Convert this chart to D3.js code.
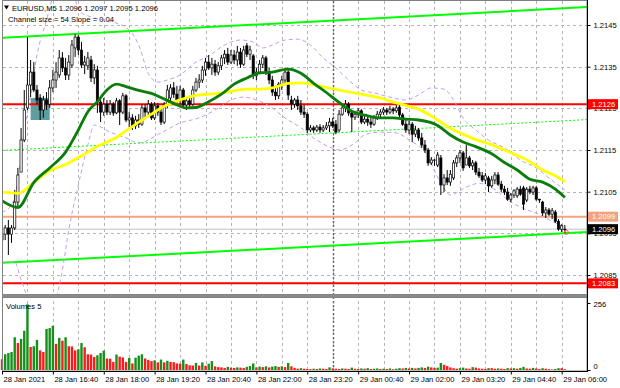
<!DOCTYPE html>
<html>
<head>
<meta charset="utf-8">
<script src="https://cdn.jsdelivr.net/npm/d3@7"></script>
<style>
  html, body { margin: 0; padding: 0; background: #fff; }
  svg { display: block; font-family: "Liberation Sans", Arial, sans-serif; }
</style>
</head>
<body>
<svg id="chart" width="620" height="388"></svg>
<script>
// EURUSD M5 bars, 28 Jan 15:20 .. 29 Jan 06:05
var opens = [
  1.20934, 1.20948, 1.20963, 1.20948, 1.20963, 1.21025, 1.21097, 1.21174, 1.21251, 1.21306,
  1.21337, 1.21294, 1.21275, 1.21246, 1.21270, 1.21260, 1.21299, 1.21318, 1.21330, 1.21371,
  1.21347, 1.21330, 1.21354, 1.21395, 1.21421, 1.21390, 1.21354, 1.21352, 1.21366, 1.21323,
  1.21342, 1.21265, 1.21241, 1.21260, 1.21241, 1.21260, 1.21239, 1.21268, 1.21241, 1.21280,
  1.21222, 1.21227, 1.21208, 1.21222, 1.21212, 1.21251, 1.21241, 1.21260, 1.21227, 1.21256,
  1.21241, 1.21217, 1.21258, 1.21275, 1.21299, 1.21284, 1.21270, 1.21294, 1.21258, 1.21268,
  1.21260, 1.21294, 1.21313, 1.21318, 1.21342, 1.21361, 1.21347, 1.21356, 1.21337, 1.21352,
  1.21371, 1.21380, 1.21361, 1.21378, 1.21366, 1.21385, 1.21356, 1.21400, 1.21380, 1.21376,
  1.21328, 1.21337, 1.21356, 1.21371, 1.21337, 1.21318, 1.21289, 1.21280, 1.21308, 1.21318,
  1.21337, 1.21270, 1.21260, 1.21270, 1.21256, 1.21241, 1.21236, 1.21198, 1.21203, 1.21198,
  1.21205, 1.21198, 1.21203, 1.21208, 1.21217, 1.21212, 1.21198, 1.21236, 1.21251, 1.21260,
  1.21239, 1.21229, 1.21236, 1.21244, 1.21217, 1.21224, 1.21217, 1.21212, 1.21227, 1.21236,
  1.21241, 1.21246, 1.21241, 1.21248, 1.21244, 1.21253, 1.21234, 1.21212, 1.21198, 1.21212,
  1.21188, 1.21198, 1.21179, 1.21162, 1.21150, 1.21119, 1.21126, 1.21114, 1.21131, 1.21066,
  1.21083, 1.21073, 1.21083, 1.21119, 1.21131, 1.21143, 1.21114, 1.21131, 1.21112, 1.21119,
  1.21097, 1.21088, 1.21078, 1.21083, 1.21064, 1.21078, 1.21090, 1.21068, 1.21056, 1.21049,
  1.21032, 1.21042, 1.21040, 1.21056, 1.21059, 1.21030, 1.21056, 1.21049, 1.21059, 1.21032,
  1.21025, 1.20999, 1.21006, 1.20996, 1.21001, 1.20979, 1.20960, 1.20960
];
var highs = [
  1.20953, 1.20970, 1.20982, 1.20970, 1.21054, 1.21107, 1.21203, 1.21294, 1.21421, 1.21366,
  1.21361, 1.21306, 1.21284, 1.21280, 1.21289, 1.21318, 1.21342, 1.21361, 1.21390, 1.21385,
  1.21371, 1.21378, 1.21414, 1.21428, 1.21426, 1.21409, 1.21376, 1.21385, 1.21376, 1.21356,
  1.21352, 1.21280, 1.21275, 1.21270, 1.21270, 1.21265, 1.21275, 1.21272, 1.21287, 1.21284,
  1.21241, 1.21236, 1.21232, 1.21236, 1.21260, 1.21260, 1.21270, 1.21265, 1.21265, 1.21263,
  1.21251, 1.21265, 1.21306, 1.21308, 1.21313, 1.21304, 1.21304, 1.21299, 1.21277, 1.21280,
  1.21304, 1.21323, 1.21332, 1.21352, 1.21371, 1.21378, 1.21371, 1.21366, 1.21361, 1.21378,
  1.21390, 1.21395, 1.21390, 1.21390, 1.21400, 1.21395, 1.21400, 1.21407, 1.21400, 1.21380,
  1.21347, 1.21366, 1.21378, 1.21376, 1.21347, 1.21328, 1.21304, 1.21313, 1.21328, 1.21347,
  1.21342, 1.21280, 1.21275, 1.21280, 1.21270, 1.21258, 1.21241, 1.21210, 1.21208, 1.21210,
  1.21212, 1.21210, 1.21217, 1.21227, 1.21227, 1.21222, 1.21246, 1.21260, 1.21270, 1.21265,
  1.21246, 1.21244, 1.21251, 1.21248, 1.21232, 1.21234, 1.21227, 1.21234, 1.21244, 1.21248,
  1.21253, 1.21251, 1.21256, 1.21253, 1.21258, 1.21260, 1.21239, 1.21222, 1.21220, 1.21217,
  1.21208, 1.21203, 1.21191, 1.21174, 1.21155, 1.21133, 1.21128, 1.21145, 1.21138, 1.21092,
  1.21102, 1.21102, 1.21126, 1.21138, 1.21150, 1.21148, 1.21162, 1.21136, 1.21126, 1.21124,
  1.21107, 1.21097, 1.21095, 1.21088, 1.21088, 1.21097, 1.21097, 1.21076, 1.21064, 1.21059,
  1.21047, 1.21056, 1.21061, 1.21064, 1.21064, 1.21061, 1.21064, 1.21064, 1.21064, 1.21032,
  1.21028, 1.21013, 1.21011, 1.21011, 1.21006, 1.20984, 1.20972, 1.20970
];
var lows = [
  1.20910, 1.20934, 1.20898, 1.20927, 1.20958, 1.21011, 1.21097, 1.21169, 1.21246, 1.21277,
  1.21289, 1.21260, 1.21222, 1.21227, 1.21246, 1.21251, 1.21289, 1.21299, 1.21323, 1.21337,
  1.21318, 1.21318, 1.21347, 1.21373, 1.21378, 1.21347, 1.21332, 1.21342, 1.21313, 1.21308,
  1.21239, 1.21217, 1.21232, 1.21234, 1.21234, 1.21232, 1.21236, 1.21210, 1.21236, 1.21217,
  1.21205, 1.21198, 1.21200, 1.21203, 1.21208, 1.21227, 1.21232, 1.21222, 1.21222, 1.21232,
  1.21210, 1.21212, 1.21251, 1.21265, 1.21275, 1.21263, 1.21260, 1.21251, 1.21246, 1.21251,
  1.21256, 1.21289, 1.21299, 1.21311, 1.21328, 1.21342, 1.21330, 1.21328, 1.21330, 1.21342,
  1.21356, 1.21354, 1.21356, 1.21356, 1.21352, 1.21347, 1.21352, 1.21373, 1.21366, 1.21320,
  1.21318, 1.21332, 1.21347, 1.21330, 1.21308, 1.21280, 1.21270, 1.21272, 1.21294, 1.21308,
  1.21270, 1.21246, 1.21251, 1.21246, 1.21234, 1.21227, 1.21191, 1.21193, 1.21191, 1.21193,
  1.21191, 1.21193, 1.21198, 1.21193, 1.21203, 1.21188, 1.21193, 1.21232, 1.21241, 1.21232,
  1.21193, 1.21222, 1.21227, 1.21212, 1.21212, 1.21208, 1.21203, 1.21208, 1.21222, 1.21229,
  1.21234, 1.21234, 1.21236, 1.21236, 1.21239, 1.21229, 1.21208, 1.21191, 1.21188, 1.21169,
  1.21181, 1.21172, 1.21155, 1.21143, 1.21112, 1.21114, 1.21112, 1.21109, 1.21042, 1.21049,
  1.21066, 1.21064, 1.21078, 1.21109, 1.21119, 1.21100, 1.21114, 1.21107, 1.21102, 1.21090,
  1.21083, 1.21073, 1.21068, 1.21049, 1.21059, 1.21068, 1.21064, 1.21049, 1.21042, 1.21028,
  1.21025, 1.21035, 1.21035, 1.21040, 1.21006, 1.21025, 1.21044, 1.21042, 1.21028, 1.21023,
  1.20992, 1.20987, 1.20992, 1.20984, 1.20975, 1.20956, 1.20953, 1.20950
];
var closes = [
  1.20948, 1.20963, 1.20948, 1.20963, 1.21025, 1.21090, 1.21174, 1.21246, 1.21306, 1.21337,
  1.21294, 1.21270, 1.21246, 1.21270, 1.21260, 1.21299, 1.21318, 1.21337, 1.21371, 1.21347,
  1.21330, 1.21361, 1.21402, 1.21421, 1.21390, 1.21354, 1.21361, 1.21371, 1.21323, 1.21342,
  1.21265, 1.21241, 1.21260, 1.21241, 1.21260, 1.21239, 1.21268, 1.21241, 1.21280, 1.21222,
  1.21227, 1.21208, 1.21222, 1.21212, 1.21251, 1.21241, 1.21260, 1.21227, 1.21256, 1.21241,
  1.21217, 1.21258, 1.21294, 1.21299, 1.21284, 1.21270, 1.21294, 1.21258, 1.21268, 1.21260,
  1.21294, 1.21313, 1.21318, 1.21342, 1.21361, 1.21347, 1.21356, 1.21337, 1.21352, 1.21371,
  1.21380, 1.21361, 1.21378, 1.21366, 1.21385, 1.21356, 1.21390, 1.21380, 1.21390, 1.21328,
  1.21337, 1.21356, 1.21371, 1.21337, 1.21318, 1.21289, 1.21280, 1.21308, 1.21318, 1.21337,
  1.21282, 1.21260, 1.21270, 1.21256, 1.21241, 1.21236, 1.21198, 1.21203, 1.21198, 1.21205,
  1.21198, 1.21203, 1.21208, 1.21217, 1.21208, 1.21193, 1.21236, 1.21251, 1.21260, 1.21239,
  1.21229, 1.21236, 1.21244, 1.21217, 1.21224, 1.21217, 1.21212, 1.21227, 1.21236, 1.21241,
  1.21246, 1.21241, 1.21248, 1.21244, 1.21251, 1.21234, 1.21212, 1.21198, 1.21212, 1.21188,
  1.21198, 1.21179, 1.21162, 1.21150, 1.21119, 1.21126, 1.21126, 1.21138, 1.21066, 1.21083,
  1.21073, 1.21092, 1.21119, 1.21131, 1.21143, 1.21107, 1.21131, 1.21112, 1.21119, 1.21097,
  1.21088, 1.21078, 1.21088, 1.21064, 1.21078, 1.21090, 1.21068, 1.21056, 1.21049, 1.21032,
  1.21042, 1.21052, 1.21056, 1.21044, 1.21020, 1.21056, 1.21049, 1.21059, 1.21032, 1.21030,
  1.20999, 1.21006, 1.20996, 1.21004, 1.20979, 1.20960, 1.20968, 1.20960
];
var volumes = [
  41, 60, 65, 69, 125, 103, 119, 150, 251, 88,
  91, 115, 75, 69, 157, 160, 169, 100, 123, 112,
  125, 91, 90, 75, 79, 103, 87, 60, 59, 50,
  56, 65, 74, 44, 43, 31, 59, 51, 48, 31,
  46, 25, 47, 55, 60, 44, 38, 34, 37, 29,
  40, 29, 35, 31, 30, 25, 24, 40, 23, 18,
  17, 27, 17, 29, 16, 24, 34, 14, 11, 10,
  8, 12, 9, 8, 10, 9, 8, 12, 15, 25,
  10, 13, 11, 14, 10, 13, 15, 12, 14, 11,
  27, 14, 8, 5, 7, 5, 4, 3, 5, 4,
  6, 5, 4, 10, 6, 5, 4, 6, 5, 4,
  9, 5, 4, 6, 5, 7, 4, 5, 6, 4,
  5, 4, 6, 3, 5, 7, 6, 8, 6, 8,
  6, 8, 10, 8, 13, 10, 8, 9, 27, 20,
  15, 10, 7, 5, 7, 9, 6, 5, 11, 9,
  6, 5, 4, 7, 7, 5, 6, 5, 4, 7,
  6, 7, 5, 8, 12, 6, 5, 8, 6, 4,
  7, 5, 3, 2, 4, 7, 7, 3
];

// moving averages, read at these bars
var maBars = [0, 5, 10, 15, 20, 24, 27, 30, 33, 36, 39, 43, 47, 50, 54, 58, 61, 65, 69, 73, 77, 81, 85,
  90, 94, 98, 102, 106, 110, 115, 119, 123, 127, 131, 137, 141, 145, 149, 154, 158, 162, 166, 170, 174, 177];
var maGreen = [1.21028, 1.21012, 1.21072, 1.21107, 1.21145, 1.21198, 1.21242, 1.21266, 1.21294, 1.21308,
  1.21302, 1.21293, 1.21286, 1.21276, 1.21262, 1.21251, 1.21252, 1.21266, 1.21284, 1.21308, 1.21323,
  1.21335, 1.21337, 1.21344, 1.21334, 1.21310, 1.21288, 1.21264, 1.21243, 1.21232, 1.21227, 1.21227,
  1.21224, 1.21222, 1.21209, 1.21186, 1.21169, 1.21158, 1.21141, 1.21120, 1.21102, 1.21080, 1.21073,
  1.21056, 1.21036];
var maYellow = [1.21049, 1.21046, 1.21072, 1.21100, 1.21115, 1.21132, 1.21145, 1.21159, 1.21169, 1.21180,
  1.21196, 1.21217, 1.21236, 1.21251, 1.21265, 1.21275, 1.21281, 1.21284, 1.21287, 1.21292, 1.21296,
  1.21296, 1.21299, 1.21310, 1.21311, 1.21307, 1.21300, 1.21294, 1.21288, 1.21281, 1.21275, 1.21265,
  1.21257, 1.21248, 1.21222, 1.21202, 1.21188, 1.21175, 1.21163, 1.21150, 1.21137, 1.21122, 1.21102,
  1.21088, 1.21074];

// bollinger bands
var bbUpperBars = [0, 3, 5, 7, 9, 11, 14, 16, 18, 21, 24, 29, 35, 40, 43, 46, 49, 52, 56, 61, 65, 70, 75,
  79, 82, 85, 89, 93, 97, 101, 105, 109, 113, 117, 122, 127, 131, 135, 139, 142, 145, 149, 153, 158,
  163, 168, 172, 177];
var bbUpper = [1.21001, 1.21018, 1.21078, 1.21198, 1.21282, 1.21378, 1.21462, 1.21522, 1.21600, 1.21600,
  1.21485, 1.21467, 1.21457, 1.21438, 1.21402, 1.21334, 1.21313, 1.21318, 1.21330, 1.21361, 1.21376,
  1.21402, 1.21414, 1.21409, 1.21395, 1.21402, 1.21414, 1.21416, 1.21402, 1.21371, 1.21347, 1.21318,
  1.21294, 1.21287, 1.21277, 1.21270, 1.21282, 1.21299, 1.21296, 1.21270, 1.21227, 1.21198, 1.21174,
  1.21155, 1.21126, 1.21107, 1.21083, 1.21054];
var bbLowerBars = [0, 4, 6, 8, 10, 14, 17, 19, 21, 24, 27, 29, 34, 39, 43, 50, 56, 62, 67, 72, 76, 80, 84,
  89, 94, 98, 103, 106, 111, 114, 119, 124, 128, 133, 138, 141, 146, 150, 155, 160, 164, 169, 174, 177];
var bbLower = [1.20881, 1.20881, 1.20838, 1.20790, 1.20690, 1.20690, 1.20790, 1.20862, 1.20958, 1.21066,
  1.21162, 1.21210, 1.21193, 1.21179, 1.21167, 1.21191, 1.21215, 1.21227, 1.21246, 1.21270, 1.21277,
  1.21270, 1.21256, 1.21227, 1.21203, 1.21179, 1.21157, 1.21150, 1.21167, 1.21186, 1.21193, 1.21191,
  1.21174, 1.21145, 1.21071, 1.21042, 1.21061, 1.21070, 1.21055, 1.21025, 1.21010, 1.20995, 1.20975,
  1.20965];

// regression channel (54 pips)
var channelBars = [0, 184];
var channelUpper = [1.21419, 1.21493];
var channelMid = [1.21149, 1.21223];
var channelLower = [1.20879, 1.20953];

var levelPrices = [1.2126, 1.2099, 1.2083];
var levelColors = ['#ff0000', '#f4a27f', '#ff0000'];
var lastPrice = 1.2096;
var boxBars = [9, 15];
var boxPrices = [1.21275, 1.21222];

var priceTicks = [1.2085, 1.2095, 1.2105, 1.2115, 1.2125, 1.2135, 1.2145];
var volumeTicks = [0, 256];
var tickBars = [0, 16, 32, 48, 64, 80, 96, 112, 128, 144, 160, 176];
var tickLabels = ['28 Jan 2021', '28 Jan 16:40', '28 Jan 18:00', '28 Jan 19:20', '28 Jan 20:40',
  '28 Jan 22:00', '28 Jan 23:20', '29 Jan 00:40', '29 Jan 02:00', '29 Jan 03:20', '29 Jan 04:40',
  '29 Jan 06:00'];
var separatorBar = 104;

var left = 3, right = 587,
    mainTop = 1, mainBottom = 294,
    volTop = 298, volBottom = 371,
    font = 7.6;

var x = d3.scaleLinear().domain([0, 177]).range([2, 2 + 3.18 * 177]),
    y = d3.scaleLinear().domain([1.2085, 1.2145]).range([275, 25]),
    yVol = d3.scaleLinear().domain([0, 256]).range([370, 303]);

var svg = d3.select('#chart'),
    defs = svg.append('defs');

defs.append('clipPath').attr('id', 'clipMain').append('rect')
    .attr('x', left).attr('y', mainTop)
    .attr('width', right - left).attr('height', mainBottom - mainTop);

var bars = d3.range(opens.length);

// grid
var gridBars = d3.range(8, 178, 8);
svg.append('g').selectAll('line').data(gridBars).enter().append('line')
    .attr('x1', function (d) { return Math.round(x(d)) + 0.5; })
    .attr('x2', function (d) { return Math.round(x(d)) + 0.5; })
    .attr('y1', mainTop).attr('y2', volBottom)
    .attr('stroke', '#b4b4b4').attr('stroke-dasharray', '3,3');
svg.append('g').selectAll('line').data(priceTicks).enter().append('line')
    .attr('x1', left).attr('x2', right)
    .attr('y1', function (d) { return Math.round(y(d)) + 0.5; })
    .attr('y2', function (d) { return Math.round(y(d)) + 0.5; })
    .attr('stroke', '#b4b4b4').attr('stroke-dasharray', '3,3');

// day separator
svg.append('line')
    .attr('x1', Math.round(x(separatorBar)) + 0.5).attr('x2', Math.round(x(separatorBar)) + 0.5)
    .attr('y1', mainTop).attr('y2', volBottom)
    .attr('stroke', '#6a6a6a').attr('stroke-width', 1.5).attr('stroke-dasharray', '2,2');

var main = svg.append('g').attr('clip-path', 'url(#clipMain)');

// rectangle object
main.append('rect')
    .attr('x', x(boxBars[0])).attr('y', y(boxPrices[0]))
    .attr('width', x(boxBars[1]) - x(boxBars[0]))
    .attr('height', y(boxPrices[1]) - y(boxPrices[0]))
    .attr('fill', '#5f9ea0');

// last price line
main.append('line')
    .attr('x1', left).attr('x2', right)
    .attr('y1', y(lastPrice)).attr('y2', y(lastPrice))
    .attr('stroke', '#c0c0c0');

// horizontal levels
main.selectAll('line.level').data(levelPrices).enter().append('line')
    .attr('class', 'level')
    .attr('x1', left).attr('x2', right)
    .attr('y1', function (d) { return y(d); })
    .attr('y2', function (d) { return y(d); })
    .attr('stroke', function (d, i) { return levelColors[i]; })
    .attr('stroke-width', 2);

// channel
var chLine = d3.line()
    .x(function (d) { return x(d[0]); })
    .y(function (d) { return y(d[1]); });
[channelUpper, channelLower].forEach(function (c) {
    main.append('path')
        .attr('d', chLine(d3.zip(channelBars, c)))
        .attr('fill', 'none').attr('stroke', '#00ff00').attr('stroke-width', 2);
});
main.append('path')
    .attr('d', chLine(d3.zip(channelBars, channelMid)))
    .attr('fill', 'none').attr('stroke', '#00ff00').attr('stroke-dasharray', '2,2');

// bollinger bands
var curve = d3.line()
    .curve(d3.curveMonotoneX)
    .x(function (d) { return x(d[0]); })
    .y(function (d) { return y(d[1]); });
[[bbUpperBars, bbUpper], [bbLowerBars, bbLower]].forEach(function (b) {
    main.append('path')
        .attr('d', curve(d3.zip(b[0], b[1])))
        .attr('fill', 'none').attr('stroke', '#c59de6')
        .attr('stroke-dasharray', '4,3');
});

// candles
var candle = main.append('g').selectAll('g').data(bars).enter().append('g');
candle.append('line')
    .attr('x1', function (i) { return x(i); })
    .attr('x2', function (i) { return x(i); })
    .attr('y1', function (i) { return y(highs[i]); })
    .attr('y2', function (i) { return y(lows[i]); })
    .attr('stroke', '#000');
candle.append('rect')
    .attr('x', function (i) { return x(i) - 1.1; })
    .attr('width', 2.2)
    .attr('y', function (i) { return y(Math.max(opens[i], closes[i])); })
    .attr('height', function (i) {
        return Math.max(Math.abs(y(opens[i]) - y(closes[i])), 0.6);
    })
    .attr('fill', function (i) { return closes[i] >= opens[i] ? '#fff' : '#000'; })
    .attr('stroke', '#000').attr('stroke-width', 0.7);

// moving averages
main.append('path')
    .attr('d', curve(d3.zip(maBars, maYellow)))
    .attr('fill', 'none').attr('stroke', '#ffff00').attr('stroke-width', 2.8);
main.append('path')
    .attr('d', curve(d3.zip(maBars, maGreen)))
    .attr('fill', 'none').attr('stroke', '#0b7d0b').attr('stroke-width', 2.8);

// trade marker on last bar
main.append('circle')
    .attr('cx', x(177) + 1.5).attr('cy', y(lows[177]) - 1)
    .attr('r', 2).attr('fill', 'none').attr('stroke', '#ff5050');

// volumes
svg.append('g').selectAll('rect').data(bars).enter().append('rect')
    .attr('x', function (i) { return x(i) - 1.2; })
    .attr('width', 2.4)
    .attr('y', function (i) { return yVol(volumes[i]); })
    .attr('height', function (i) { return yVol(0) - yVol(volumes[i]); })
    .attr('fill', function (i) {
        return i > 0 && volumes[i] > volumes[i - 1] ? '#16901a' : '#ff1a1a';
    });

// frames
svg.append('rect').attr('x', 2.5).attr('y', 0.5)
    .attr('width', right - 2.5).attr('height', mainBottom)
    .attr('fill', 'none').attr('stroke', '#808080');
svg.append('rect').attr('x', 2).attr('y', 294.5)
    .attr('width', right - 1.5).attr('height', 3)
    .attr('fill', '#8a8a8a');
svg.append('rect').attr('x', 2.5).attr('y', volTop - 0.5)
    .attr('width', right - 2.5).attr('height', volBottom - volTop + 0.5)
    .attr('fill', 'none').attr('stroke', '#808080');
svg.append('line').attr('x1', right + 0.5).attr('x2', right + 0.5)
    .attr('y1', 0).attr('y2', volBottom + 0.5).attr('stroke', '#000');
svg.append('line').attr('x1', 2).attr('x2', right + 1)
    .attr('y1', volBottom + 0.5).attr('y2', volBottom + 0.5).attr('stroke', '#000');

// axes
function styleAxis(g) {
    g.attr('font-family', null).attr('font-size', font);
    g.select('.domain').remove();
    g.selectAll('text').attr('fill', '#000');
}
svg.append('g')
    .attr('transform', 'translate(' + (right + 0.5) + ',0)')
    .call(d3.axisRight(y).tickValues(priceTicks).tickSize(3).tickPadding(3)
        .tickFormat(d3.format('.4f')))
    .call(styleAxis);
svg.append('g')
    .attr('transform', 'translate(' + (right + 0.5) + ',0)')
    .call(d3.axisRight(yVol).tickValues(volumeTicks).tickSize(3).tickPadding(3))
    .call(styleAxis)
    .call(function (g) {
        g.selectAll('text').attr('dy', function (d) { return d === 0 ? '-0.2em' : '0.5em'; });
    });
svg.append('g')
    .attr('transform', 'translate(0,' + (volBottom + 0.5) + ')')
    .call(d3.axisBottom(x).tickValues(tickBars).tickSize(3).tickPadding(2)
        .tickFormat(function (d, i) { return tickLabels[i]; }))
    .call(styleAxis)
    .call(function (g) {
        g.selectAll('text').attr('text-anchor', 'start').attr('x', 1);
    });

// price tags
var tagPrices = [1.2126, 1.2099, 1.2096, 1.2083];
var tagColors = ['#ff0000', '#f4a27f', '#000000', '#ff0000'];
var tags = svg.append('g').selectAll('g').data(tagPrices).enter().append('g')
    .attr('transform', function (d) { return 'translate(588,' + y(d) + ')'; });
tags.append('rect')
    .attr('x', 0).attr('y', -5).attr('width', 30).attr('height', 10)
    .attr('fill', function (d, i) { return tagColors[i]; });
tags.append('text')
    .attr('x', 4).attr('y', 2.8)
    .attr('font-size', font).attr('fill', '#fff')
    .text(d3.format('.4f'));

// captions
svg.append('path').attr('d', 'M4,5.5 L9,5.5 L6.5,9.5 Z').attr('fill', '#000');
svg.append('text').attr('x', 12).attr('y', 10.5).attr('font-size', font)
    .text('EURUSD,M5  1.2096 1.2097 1.2095 1.2096');
svg.append('text').attr('x', 8).attr('y', 21.5).attr('font-size', font)
    .text('Channel size = 54 Slope = 0.04');
svg.append('text').attr('x', 6).attr('y', 309).attr('font-size', font)
    .text('Volumes 5');
</script>
</body>
</html>
